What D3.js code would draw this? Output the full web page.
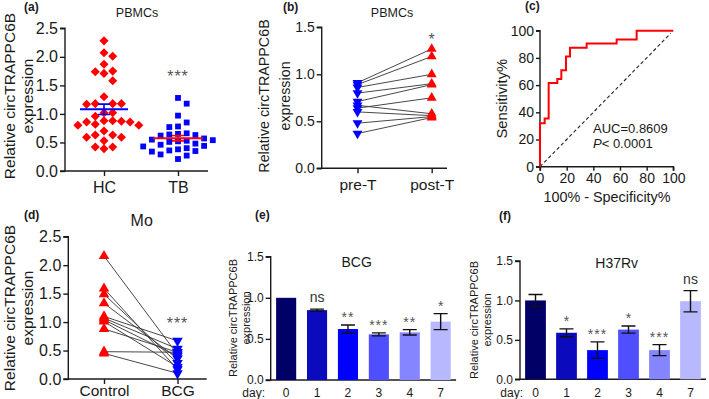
<!DOCTYPE html>
<html><head><meta charset="utf-8">
<script src="https://cdn.jsdelivr.net/npm/d3@7"></script>
<style>
body{margin:0;background:#fff;}
svg text{font-family:"Liberation Sans",Arial,sans-serif;fill:#1a1a1a;}
.axis path,.axis line{stroke:#1a1a1a;stroke-width:1.4px;}
</style></head><body>
<svg id="c" width="709" height="399"></svg>
<script>
// ---------- DATA ----------
// (a) PBMCs scatter
const hcValues = [2.28,2.07,2.01,1.87,1.75,1.74,1.71,1.58,1.30,1.18,1.18,1.18,1.17,1.02,1.02,0.96,0.88,0.88,0.87,0.86,0.86,0.82,0.80,0.80,0.70,0.63,0.63,0.59,0.59,0.53,0.42,0.42,0.39];
const tbValues = [1.28,1.18,0.97,0.85,0.78,0.77,0.66,0.65,0.64,0.63,0.62,0.57,0.55,0.54,0.53,0.52,0.51,0.48,0.46,0.44,0.43,0.40,0.38,0.36,0.35,0.34,0.29,0.27,0.21];
const groupsA = ["HC","TB"];
// (b) paired pre/post
const preT  = [0.91,0.89,0.86,0.80,0.71,0.67,0.64,0.60,0.48,0.37];
const postT = [1.27,1.19,1.00,0.90,0.89,0.58,0.75,0.56,0.55,0.54];
const groupsB = ["pre-T","post-T"];
// (c) ROC
const rocFpr = [0,0,3.5,6.5,13,16,19.5,22.5,35,57.5,72.5,100];
const rocTpr = [0,32,35.5,61.5,64.5,71,81,87.5,90.5,93.5,100,100];
const rocTicks = [0,20,40,60,80,100];
// (d) Mo paired
const moControl = [2.16,1.59,1.49,1.33,1.10,1.07,1.04,1.01,0.88,0.48,0.45];
const moBCG     = [0.43,0.17,0.28,0.36,0.67,0.53,0.40,0.21,0.47,0.47,0.10];
const groupsD = ["Control","BCG"];
// (e),(f) bars
const days = ["0","1","2","3","4","7"];
const bcgMean = [1.0,0.85,0.62,0.555,0.58,0.71];
const bcgErr  = [0,0.012,0.05,0.018,0.033,0.097];
const bcgSig  = ["","ns","**","***","**","*"];
const h37Mean = [1.0,0.59,0.37,0.63,0.37,0.99];
const h37Err  = [0.075,0.05,0.105,0.045,0.07,0.135];
const h37Sig  = ["","*","***","*","***","ns"];
const barColors = ["#000066","#0b0bbd","#0000ff","#4f4fff","#8585ff","#b8b8ff"];

// ---------- DRAW ----------
const svg = d3.select("#c");
svg.append("rect").attr("width",709).attr("height",399).attr("fill","#fff");
const RED="#ff0000", BLUE="#0000ff", GRAY="#555";

function panelLabel(t,x,y){svg.append("text").attr("x",x).attr("y",y).attr("font-size",12).attr("font-weight","bold").text(t);}
function title(t,x,y,fs){svg.append("text").attr("x",x).attr("y",y).attr("text-anchor","middle").attr("font-size",fs).text(t);}
function ylab(lines,xs,y,fs){lines.forEach((l,i)=>svg.append("text").attr("transform",`translate(${xs[i]},${y}) rotate(-90)`).attr("text-anchor","middle").attr("dominant-baseline","central").attr("font-size",fs).text(l));}
function yAxis(y,x,ticks,fmt,fs,ts){
  const g=svg.append("g").attr("class","axis").attr("transform",`translate(${x},0)`)
    .call(d3.axisLeft(y).tickValues(ticks).tickFormat(fmt).tickSize(ts||5).tickPadding(2));
  g.selectAll("text").attr("font-size",fs).attr("fill","#1a1a1a");
  g.select(".domain").attr("d",`M-${ts||5},${y.range()[0]}H0V${y.range()[1]}H-${ts||5}`);
  return g;
}
function xAxisBand(x,y0,x0,x1,fs,dy,withTicks){
  const g=svg.append("g").attr("class","axis").attr("transform",`translate(0,${y0})`)
    .call(d3.axisBottom(x).tickSize(withTicks?5:0).tickPadding(3));
  g.select(".domain").attr("d",`M${x0},0H${x1}`);
  g.selectAll("text").attr("font-size",fs).attr("fill","#1a1a1a").attr("dy",dy);
  return g;
}
function sig(t,x,y,fs){svg.append("text").attr("x",x).attr("y",y).attr("text-anchor","middle").attr("font-size",fs).attr("letter-spacing",t.length>1&&t!=="ns"?1:0).style("fill",t==="ns"?"#333":GRAY).text(t);}
const tri = (up,s)=>d3.symbol().type(d3.symbolTriangle).size(s);

// ===== (a) =====
{
  const y=d3.scaleLinear().domain([0,2.5]).range([171,28.3]);
  const x=d3.scalePoint().domain(groupsA).range([104,178]);
  panelLabel("(a)",24,11); title("PBMCs",137,17,12.5);
  ylab(["Relative circTRAPPC6B","expression"],[9,27],96,15.5);
  yAxis(y,65,[0,0.5,1,1.5,2,2.5],d3.format(".1f"),16);
  xAxisBand(x,171,65,208,16,"0.9em",true);
  function swarm(vals,d,s){
    const placed=[];
    vals.map(v=>({v,py:y(v)})).sort((a,b)=>a.py-b.py).forEach(p=>{
      for(let k=0;k<30;k++){
        const off=(k===0?0:(k%2?1:-1)*Math.ceil(k/2))*d;
        if(!placed.some(q=>Math.abs(q.py-p.py)<s&&Math.abs(q.off-off)<s)){p.off=off;placed.push(p);break;}
      }});
    return placed;
  }
  swarm(hcValues,8.7,7.6).forEach(p=>svg.append("rect").attr("x",-3.2).attr("y",-3.2).attr("width",6.4).attr("height",6.4)
      .attr("transform",`translate(${x("HC")+p.off},${p.py}) rotate(45)`).attr("fill",RED));
  swarm(tbValues,8.7,7.2).forEach(p=>svg.append("rect").attr("x",x("TB")+p.off-2.9).attr("y",p.py-2.9).attr("width",5.8).attr("height",5.8).attr("fill",BLUE));
  [[hcValues,"HC",BLUE,24],[tbValues,"TB",RED,25]].forEach(([v,g,c,hw])=>{
    const m=d3.mean(v), se=d3.deviation(v)/Math.sqrt(v.length), cx=x(g);
    svg.append("line").attr("x1",cx-hw).attr("x2",cx+hw).attr("y1",y(m)).attr("y2",y(m)).attr("stroke",c).attr("stroke-width",2);
    svg.append("path").attr("d",`M${cx},${y(m-se)}V${y(m+se)}M${cx-6},${y(m-se)}H${cx+6}M${cx-6},${y(m+se)}H${cx+6}`).attr("stroke",c).attr("stroke-width",1.6).attr("fill","none");
  });
  sig("***",x("TB"),82,16);
}

// ===== (b) =====
{
  const y=d3.scaleLinear().domain([0,1.5]).range([168.3,27.3]);
  const x=d3.scalePoint().domain(groupsB).range([357.5,431.7]);
  panelLabel("(b)",283,11); title("PBMCs",392,17,12.5);
  ylab(["Relative circTRAPPC6B","expression"],[264,285],96,14.3);
  yAxis(y,321.7,[0,0.5,1,1.5],d3.format(".1f"),14);
  xAxisBand(x,168.3,321.7,447,15.5,"0.9em",true);
  preT.forEach((v,i)=>svg.append("line").attr("x1",x("pre-T")).attr("y1",y(v)).attr("x2",x("post-T")).attr("y2",y(postT[i])).attr("stroke","#333").attr("stroke-width",0.9));
  preT.forEach(v=>svg.append("path").attr("d",tri(false,42)()).attr("transform",`translate(${x("pre-T")},${y(v)}) rotate(180)`).attr("fill",BLUE));
  postT.forEach(v=>svg.append("path").attr("d",tri(true,42)()).attr("transform",`translate(${x("post-T")},${y(v)})`).attr("fill",RED));
  sig("*",x("post-T"),45,16);
}

// ===== (c) =====
{
  const x=d3.scaleLinear().domain([0,100]).range([540,673.3]);
  const y=d3.scaleLinear().domain([0,100]).range([166.7,30.7]);
  panelLabel("(c)",525,10);
  ylab(["Sensitivity%"],[501.7],98.7,14.8);
  yAxis(y,540,rocTicks,d3.format("d"),14,4);
  const g=svg.append("g").attr("class","axis").attr("transform","translate(0,166.7)").call(d3.axisBottom(x).tickValues(rocTicks).tickSize(4).tickPadding(2));
  g.selectAll("text").attr("font-size",14).attr("fill","#1a1a1a");
  g.select(".domain").attr("d","M540,4V0H673.3V4");
  svg.append("text").attr("x",607).attr("y",202).attr("text-anchor","middle").attr("font-size",14.4).text("100% - Specificity%");
  svg.append("line").attr("x1",x(0)).attr("y1",y(0)).attr("x2",x(98)).attr("y2",y(98)).attr("stroke","#222").attr("stroke-width",1.1).attr("stroke-dasharray","3.5,2.5");
  const pts=rocFpr.map((f,i)=>[f,rocTpr[i]]);
  svg.append("path").attr("d",d3.line().x(d=>x(d[0])).y(d=>y(d[1])).curve(d3.curveStepAfter)(pts)).attr("fill","none").attr("stroke",RED).attr("stroke-width",2);
  svg.append("text").attr("x",593).attr("y",133).attr("font-size",13).text("AUC=0.8609");
  const t=svg.append("text").attr("x",593).attr("y",148).attr("font-size",13);
  t.append("tspan").attr("font-style","italic").text("P");
  t.append("tspan").text("< 0.0001");
}

// ===== (d) =====
{
  const y=d3.scaleLinear().domain([0,2.5]).range([379,236.7]);
  const x=d3.scalePoint().domain(groupsD).range([104,177.5]);
  panelLabel("(d)",24,219); title("Mo",141.7,226,16);
  ylab(["Relative circTRAPPC6B","expression"],[9,27],308,15.5);
  yAxis(y,68.3,[0,0.5,1,1.5,2,2.5],d3.format(".1f"),16);
  xAxisBand(x,379,68.3,206.7,15.5,"0.55em",true);
  moControl.forEach((v,i)=>svg.append("line").attr("x1",x("Control")).attr("y1",y(v)).attr("x2",x("BCG")).attr("y2",y(moBCG[i])).attr("stroke","#333").attr("stroke-width",0.9));
  moControl.forEach(v=>svg.append("path").attr("d",tri(true,48)()).attr("transform",`translate(${x("Control")},${y(v)})`).attr("fill",RED));
  moBCG.forEach(v=>svg.append("path").attr("d",tri(false,48)()).attr("transform",`translate(${x("BCG")},${y(v)}) rotate(180)`).attr("fill",BLUE));
  sig("***",x("BCG"),329,16);
}

// ===== bars (e),(f) =====
function barPanel(o){
  const y=d3.scaleLinear().domain([0,1.5]).range([o.y0,o.y1]);
  const x=d3.scaleBand().domain(days).range([o.ax,o.ax+6*o.step]).paddingInner(o.pad).paddingOuter(o.pad/2);
  panelLabel(o.lab,o.lx,o.ly); title(o.title,o.tx,o.ty,14);
  ylab(["Relative circTRAPPC6B","expression"],o.ylx,o.yly,11);
  yAxis(y,o.ax,[0,0.5,1,1.5],d3.format(".1f"),12);
  const g=svg.append("g").attr("class","axis").attr("transform",`translate(0,${o.y0})`).call(d3.axisBottom(x).tickSize(0).tickPadding(0));
  g.select(".domain").attr("d",`M${o.ax},0H${o.ax+6*o.step}`);
  g.selectAll("text").attr("font-size",12).attr("fill","#1a1a1a").attr("y",0).attr("dy",0).attr("transform","translate(0,17.3)");
  svg.append("text").attr("x",o.dayx).attr("y",o.y0+17.3).attr("font-size",12).attr("text-anchor","end").text("day:");
  days.forEach((d,i)=>{
    const cx=x(d)+x.bandwidth()/2, m=o.mean[i], e=o.err[i];
    svg.append("rect").attr("x",x(d)).attr("width",x.bandwidth()).attr("y",y(m)).attr("height",o.y0-y(m)).attr("fill",barColors[i]);
    if(e>0) svg.append("path").attr("d",`M${cx},${y(m-e)}V${y(m+e)}M${cx-7},${y(m-e)}H${cx+7}M${cx-7},${y(m+e)}H${cx+7}`).attr("stroke","#111").attr("stroke-width",1.4).attr("fill","none");
    const s=o.sig[i];
    if(s) sig(s,cx,y(m+e)-(s==="ns"?7:3),14);
  });
}
barPanel({lab:"(e)",lx:255,ly:219,title:"BCG",tx:356.7,ty:267,ylx:[233,246],yly:318,ax:270.7,step:30.9,pad:0.35,y0:380,y1:256.7,dayx:265,mean:bcgMean,err:bcgErr,sig:bcgSig});
barPanel({lab:"(f)",lx:499,ly:220,title:"H37Rv",tx:616.7,ty:268,ylx:[474,487],yly:320,ax:520,step:31,pad:0.33,y0:379.3,y1:261,dayx:523,mean:h37Mean,err:h37Err,sig:h37Sig});
</script></body></html>
